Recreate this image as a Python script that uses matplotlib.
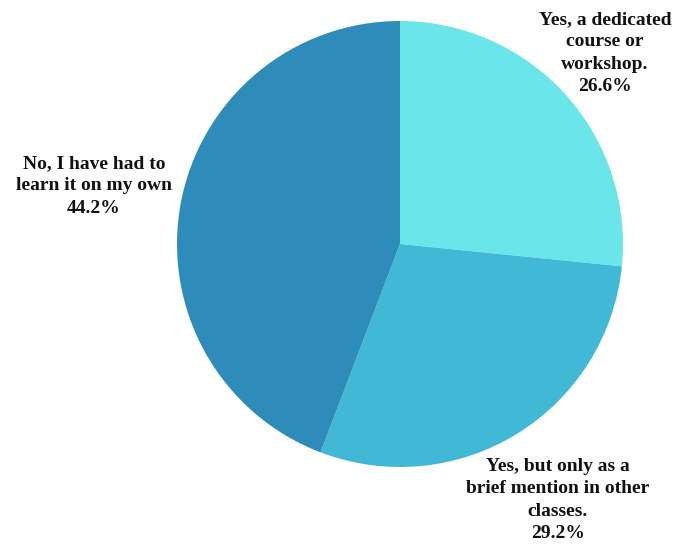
import matplotlib
matplotlib.use("Agg")
import matplotlib.pyplot as plt

labels = [
    "Yes, a dedicated\ncourse or\nworkshop.",
    "Yes, but only as a\nbrief mention in other\nclasses.",
    "No, I have had to\nlearn it on my own",
]
shares = [26.6, 29.2, 44.2]
colors = ["#6ae6ea", "#42b8d7", "#2e8cba"]

# label anchor positions in pixel space (x, top y from top)
label_pos = [(605, 11), (558, 458), (94, 155)]

fig = plt.figure(figsize=(6.9, 5.44), dpi=100)
ax = fig.add_axes([0, 0, 1, 1])

ax.pie(shares, colors=colors, startangle=90, counterclock=False,
       center=(400, 544 - 244), radius=223,
       wedgeprops=dict(linewidth=0), frame=True)
ax.set_xlim(0, 690)
ax.set_ylim(0, 544)
ax.set_aspect("equal")
ax.axis("off")

for lab, val, (x, y) in zip(labels, shares, label_pos):
    ax.text(x, 544 - y, f"{lab}\n{val:.1f}%", ha="center", va="top",
            fontsize=14, fontweight="bold", family="Liberation Serif",
            color="#111111", linespacing=1.42)

fig.savefig("out.png", dpi=100)
